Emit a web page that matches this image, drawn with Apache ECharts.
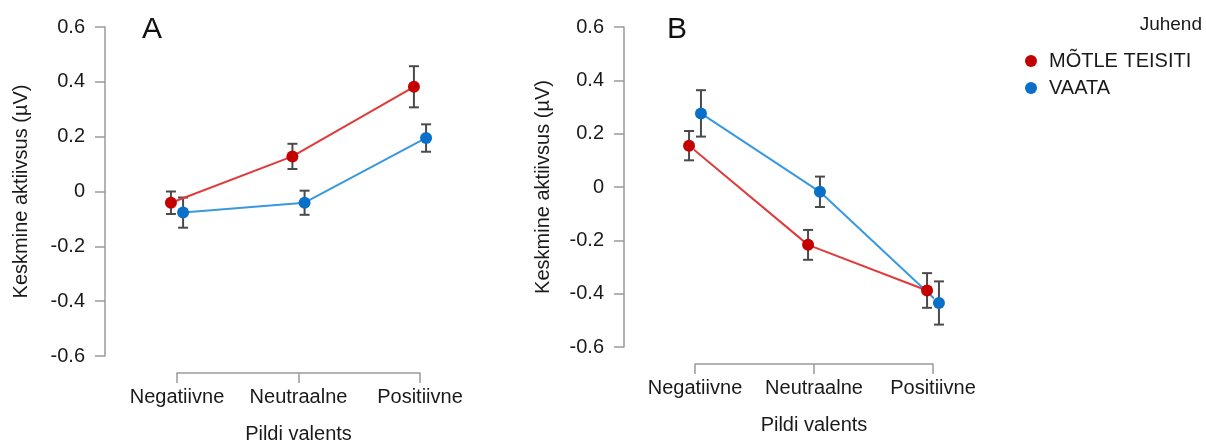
<!DOCTYPE html>
<html><head><meta charset="utf-8">
<script src="https://cdn.jsdelivr.net/npm/echarts@6/dist/echarts.min.js"></script>
<style>html,body{margin:0;padding:0;background:#fff}#c{width:1206px;height:444px}</style>
</head><body><div id="c"></div>
<script>
const categories = ['Negatiivne', 'Neutraalne', 'Positiivne'];
const yTicks = [-0.6, -0.4, -0.2, 0, 0.2, 0.4, 0.6];
const seriesNames = ['MÕTLE TEISITI', 'VAATA'];
// Panel A
const A_motle = [-0.041, 0.128, 0.382];
const A_motleErr = [0.041, 0.046, 0.075];
const A_vaata = [-0.077, -0.041, 0.195];
const A_vaataErr = [0.055, 0.044, 0.050];
// Panel B
const B_motle = [0.155, -0.217, -0.388];
const B_motleErr = [0.055, 0.056, 0.065];
const B_vaata = [0.276, -0.018, -0.435];
const B_vaataErr = [0.087, 0.057, 0.081];

const FONT = 'Liberation Sans';
const FS = 20;
const RED = '#c40000', RED_LINE = '#e03a3a';
const BLUE = '#0a6fc8', BLUE_LINE = '#3a98de';
const DODGE = 0.05;
const AXC = '#9a9a9a';
const TXT = '#1a1a1a';

function pts(vals, off) { return vals.map((v, i) => [i + off, v]); }
function errs(vals, e, off) { return vals.map((v, i) => [i + off, v - e[i], v + e[i]]); }

function errRender(params, api) {
  const x = api.value(0), lo = api.value(1), hi = api.value(2);
  const p1 = api.coord([x, hi]), p2 = api.coord([x, lo]);
  const w = 5;
  const st = { stroke: '#4a4a4a', lineWidth: 2 };
  return { type: 'group', children: [
    { type: 'line', shape: { x1: p1[0], y1: p1[1], x2: p2[0], y2: p2[1] }, style: st },
    { type: 'line', shape: { x1: p1[0] - w, y1: p1[1], x2: p1[0] + w, y2: p1[1] }, style: st },
    { type: 'line', shape: { x1: p2[0] - w, y1: p2[1], x2: p2[0] + w, y2: p2[1] }, style: st }
  ]};
}

function xAx(g) {
  return { gridIndex: g, type: 'value', min: 0, max: categories.length - 1, interval: 1,
    position: 'bottom', offset: 17,
    axisLine: { show: true, onZero: false, lineStyle: { color: AXC, width: 1.5 } },
    axisTick: { show: true, length: 10, lineStyle: { color: AXC, width: 1.5 } },
    axisLabel: { formatter: v => categories[Math.round(v)], margin: 14, color: TXT, fontSize: FS, fontFamily: FONT },
    splitLine: { show: false },
    name: 'Pildi valents', nameLocation: 'middle', nameGap: 51,
    nameTextStyle: { color: TXT, fontSize: FS, fontFamily: FONT } };
}
function yAx(g, off, gap) {
  return { gridIndex: g, type: 'value', min: yTicks[0], max: yTicks[yTicks.length - 1], interval: 0.2,
    position: 'left', offset: off,
    axisLine: { show: true, onZero: false, lineStyle: { color: AXC, width: 1.5 } },
    axisTick: { show: true, length: 10, lineStyle: { color: AXC, width: 1.5 } },
    axisLabel: { formatter: v => Math.abs(v) < 1e-9 ? '0' : v.toFixed(1), margin: 20, color: TXT, fontSize: FS, fontFamily: FONT },
    splitLine: { show: false },
    name: 'Keskmine aktiivsus (µV)', nameLocation: 'middle', nameGap: gap,
    nameTextStyle: { color: TXT, fontSize: FS, fontFamily: FONT } };
}
function lineS(name, g, vals, off, c, lc) {
  return { name, type: 'line', xAxisIndex: g, yAxisIndex: g, data: pts(vals, off), clip: false,
    symbol: 'circle', symbolSize: 12, itemStyle: { color: c }, lineStyle: { color: lc, width: 2 }, z: 5 };
}
function errS(g, vals, e, off) {
  return { type: 'custom', xAxisIndex: g, yAxisIndex: g, data: errs(vals, e, off), renderItem: errRender,
    encode: { x: 0, y: [1, 2] }, clip: false, z: 3, silent: true };
}

const chart = echarts.init(document.getElementById('c'), null, { renderer: 'canvas' });
chart.setOption({
  animation: false,
  backgroundColor: '#fff',
  grid: [
    { left: 177, top: 27, width: 243, height: 329, outerBoundsMode: 'none', containLabel: false },
    { left: 695, top: 27, width: 238, height: 320, outerBoundsMode: 'none', containLabel: false }
  ],
  xAxis: [xAx(0), xAx(1)],
  yAxis: [yAx(0, 72, 74), yAx(1, 71, 71)],
  legend: {
    orient: 'vertical', left: 1020, top: 46, itemWidth: 12, itemHeight: 12, itemGap: 7,
    icon: 'circle', selectedMode: false,
    textStyle: { color: TXT, fontSize: 20, fontFamily: FONT, padding: [0, 0, 0, 7] },
    data: [
      { name: seriesNames[0], itemStyle: { color: RED } },
      { name: seriesNames[1], itemStyle: { color: BLUE } }
    ]
  },
  graphic: [
    { type: 'text', left: 142, top: 15, style: { text: 'A', font: '30px Liberation Sans', fill: '#111' } },
    { type: 'text', left: 667, top: 15, style: { text: 'B', font: '30px Liberation Sans', fill: '#111' } },
    { type: 'text', right: 4, top: 15, style: { text: 'Juhend', font: '19px Liberation Sans', fill: TXT } }
  ],
  series: [
    errS(0, A_motle, A_motleErr, -DODGE),
    errS(0, A_vaata, A_vaataErr, DODGE),
    lineS(seriesNames[0], 0, A_motle, -DODGE, RED, RED_LINE),
    lineS(seriesNames[1], 0, A_vaata, DODGE, BLUE, BLUE_LINE),
    errS(1, B_motle, B_motleErr, -DODGE),
    errS(1, B_vaata, B_vaataErr, DODGE),
    lineS(seriesNames[0], 1, B_motle, -DODGE, RED, RED_LINE),
    lineS(seriesNames[1], 1, B_vaata, DODGE, BLUE, BLUE_LINE)
  ]
});
</script></body></html>
